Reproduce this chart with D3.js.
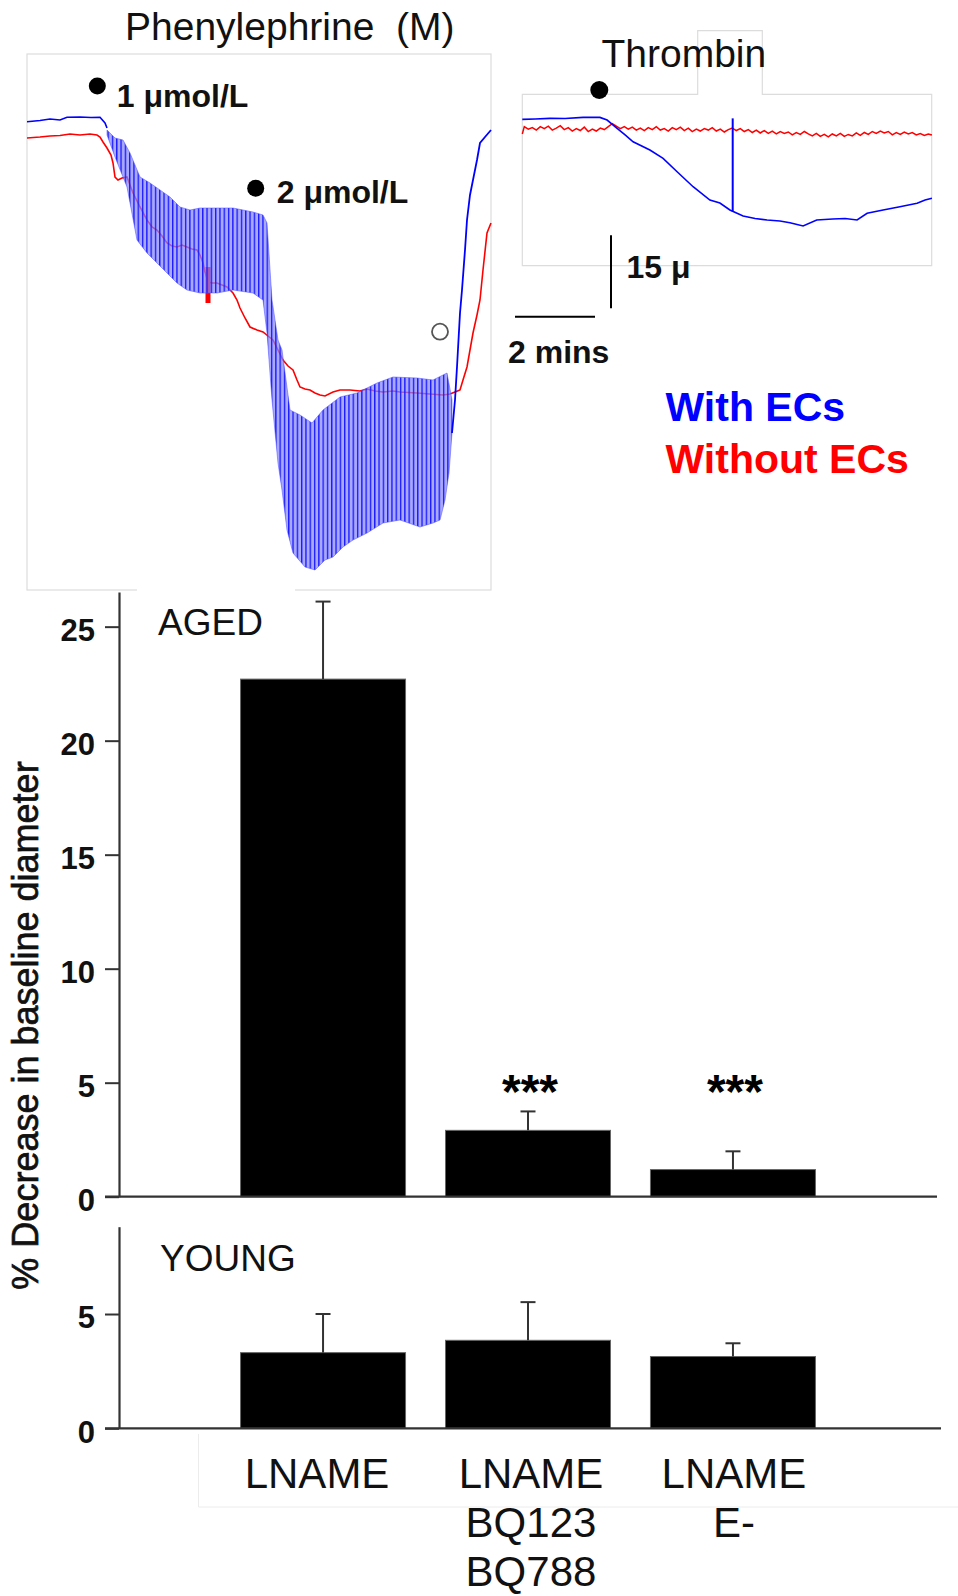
<!DOCTYPE html>
<html><head><meta charset="utf-8">
<script src="https://cdn.jsdelivr.net/npm/d3@7"></script>
<style>
body{margin:0;background:#fff}
text{font-family:"Liberation Sans",Arial,Helvetica,sans-serif}
</style>
</head><body>
<svg id="c" width="958" height="1596"></svg>
<script>
// ---------------- DATA ----------------
const categories = ["LNAME", "LNAME BQ123 BQ788", "LNAME E-"];
const categoryLines = [["LNAME"], ["LNAME", "BQ123", "BQ788"], ["LNAME", "E-"]];
const agedMean = [22.7, 2.91, 1.19];
const agedSEM = [3.4, 0.83, 0.8];
const agedSig = ["", "***", "***"];
const youngMean = [3.31, 3.85, 3.14];
const youngSEM = [1.69, 1.67, 0.58];
const agedTicks = [0, 5, 10, 15, 20, 25];
const youngTicks = [0, 5];
const yTitle = "% Decrease in baseline diameter";

// Phenylephrine traces: [time (min), diameter (µm)]
const pheBlueBase = [[0,93.66],[0.325,93.9],[0.575,94.2],[0.825,94.0],[1.0,94.54],[1.325,94.6],[1.6,94.5],[1.825,94.54],[1.95,93.4],[2.0,92.4]];
const pheBandUpper = [[2.0,92.0],[2.2,90.4],[2.4,90.0],[2.575,87.4],[2.825,82.6],[3.075,81.4],[3.325,80.0],[3.575,78.6],[3.825,76.6],[4.075,76.0],[4.325,76.4],[4.75,76.4],[5.15,76.4],[5.65,75.6],[5.9,75.0],[6.0,73.4],[6.125,58.0],[6.275,50.0],[6.375,48.0],[6.575,36.0],[6.825,35.0],[7.125,33.4],[7.4,36.0],[7.825,38.6],[8.25,39.4],[8.75,41.4],[9.15,42.6],[9.75,42.4],[10.15,42.0],[10.5,43.4],[10.625,38.0]];
const pheBandLower = [[2.0,91.0],[2.2,86.6],[2.5,80.6],[2.75,70.0],[3.0,67.4],[3.25,65.4],[3.5,63.4],[3.75,61.4],[4.0,60.0],[4.325,59.4],[4.75,59.4],[5.15,60.0],[5.65,59.4],[5.9,58.0],[6.0,51.4],[6.125,38.0],[6.275,25.4],[6.375,20.0],[6.5,12.0],[6.65,7.4],[6.95,4.6],[7.2,4.0],[7.45,6.0],[7.65,6.6],[7.9,8.6],[8.15,10.0],[8.5,11.4],[8.9,13.4],[9.325,14.0],[9.825,12.6],[10.15,13.4],[10.325,14.0],[10.45,18.0],[10.55,23.4],[10.625,31.4]];
const pheBlueRecovery = [[10.625,31.4],[10.7,38.0],[10.75,44.6],[10.825,55.4],[10.875,60.0],[10.95,68.0],[11.0,74.0],[11.075,79.0],[11.15,82.0],[11.25,86.0],[11.325,89.4],[11.45,90.6],[11.6,92.0]];
const pheRed = [[0,90.4],[0.325,90.6],[0.575,90.8],[0.825,90.9],[1.075,91.2],[1.325,91.0],[1.575,91.2],[1.75,91.0],[1.825,90.6],[1.9,89.6],[2.0,88.4],[2.1,87.0],[2.15,85.4],[2.2,82.6],[2.275,82.0],[2.375,82.4],[2.5,82.6],[2.575,81.0],[2.65,79.4],[2.825,76.6],[3.0,74.0],[3.125,72.6],[3.25,72.0],[3.375,70.8],[3.5,69.4],[3.625,68.8],[3.75,68.6],[3.875,69.0],[4.0,68.6],[4.125,68.2],[4.25,68.0],[4.325,67.0],[4.4,65.4],[4.45,63.6],[4.525,61.6],[4.625,61.4],[4.75,61.4],[4.875,61.0],[5.0,60.6],[5.15,59.4],[5.25,58.0],[5.325,56.4],[5.45,54.4],[5.575,52.6],[5.75,52.0],[5.9,51.6],[6.025,50.8],[6.15,50.0],[6.275,48.0],[6.4,46.0],[6.525,44.8],[6.65,44.0],[6.75,42.0],[6.825,40.6],[6.95,40.2],[7.075,40.0],[7.2,39.4],[7.325,39.0],[7.45,38.8],[7.65,39.6],[7.825,40.0],[8.075,40.0],[8.325,39.8],[8.5,40.2],[8.7,39.8],[8.9,39.6],[9.15,39.8],[9.325,39.6],[9.75,39.4],[10.075,39.2],[10.4,39.0],[10.575,39.2],[10.7,39.6],[10.825,40.0],[10.9,42.0],[11.0,44.6],[11.075,48.0],[11.15,51.4],[11.25,55.0],[11.325,58.0],[11.4,64.0],[11.5,71.4],[11.6,73.4]];
const pheRedArtifact = [[4.525,57.4],[4.525,64.6]];
const pheDoses = [{t:1.758, y:100.8, label:"1 \u03bcmol/L"}, {t:5.7175, y:80.34, label:"2 \u03bcmol/L"}];
const pheWashout = [{t:10.325, y:51.66}];

// Thrombin traces: [time (min), diameter (µm)]
const thrBlue = [[0,30.1],[0.32,30.17],[0.69,30.3],[1.07,30.27],[1.52,30.5],[1.94,30.5],[2.12,29.96],[2.37,28.26],[2.57,26.9],[2.77,25.5],[3.19,23.8],[3.52,22.1],[3.87,19.35],[4.27,16.27],[4.69,13.54],[4.94,12.93],[5.19,11.49],[5.52,10.26],[5.82,9.75],[6.12,9.44],[6.44,9.23],[6.69,8.89],[7.02,8.21],[7.36,9.44],[7.76,9.65],[8.07,9.75],[8.37,9.44],[8.62,10.81],[9.02,11.49],[9.44,12.17],[9.87,12.87],[10.07,13.54],[10.24,13.89]];
const thrBlueSpike = [[5.26,30.3],[5.26,11.14]];
const thrRed = [[0,27.1],[0.05,28.6],[0.15,28.1],[0.25,28.4],[0.35,27.9],[0.45,28.6],[0.55,28.2],[0.65,28.7],[0.75,27.9],[0.85,28.3],[0.95,28.8],[1.05,28.0],[1.15,28.4],[1.25,27.7],[1.35,28.2],[1.45,27.8],[1.55,28.5],[1.65,27.6],[1.75,28.1],[1.85,27.7],[1.95,28.3],[2.05,28.0],[2.15,28.6],[2.25,29.2],[2.35,28.7],[2.45,28.2],[2.55,28.6],[2.65,28.1],[2.75,28.5],[2.85,27.9],[2.95,28.3],[3.05,27.8],[3.15,28.4],[3.25,28.0],[3.35,28.6],[3.45,27.9],[3.55,28.2],[3.65,27.7],[3.75,28.4],[3.85,28.0],[3.95,28.5],[4.05,27.8],[4.15,28.3],[4.25,27.6],[4.35,28.1],[4.45,27.7],[4.55,28.2],[4.65,27.9],[4.75,28.4],[4.85,27.7],[4.95,28.1],[5.05,27.5],[5.15,28.0],[5.25,28.3],[5.35,27.8],[5.45,28.2],[5.55,27.6],[5.65,28.0],[5.75,27.4],[5.85,27.9],[5.95,27.3],[6.05,27.8],[6.15,27.2],[6.25,27.7],[6.35,27.1],[6.45,27.6],[6.55,27.2],[6.65,27.5],[6.75,26.9],[6.85,27.4],[6.95,27.0],[7.05,27.6],[7.15,27.1],[7.25,26.7],[7.35,27.2],[7.45,26.6],[7.55,27.0],[7.65,26.5],[7.75,27.1],[7.85,26.7],[7.95,27.2],[8.05,26.6],[8.15,27.0],[8.25,26.7],[8.35,27.3],[8.45,26.8],[8.55,27.4],[8.65,27.0],[8.75,27.6],[8.85,27.2],[8.95,27.7],[9.05,27.3],[9.15,27.6],[9.25,26.9],[9.35,27.4],[9.45,27.0],[9.55,27.5],[9.65,27.1],[9.75,27.4],[9.85,26.9],[9.95,27.2],[10.05,26.8],[10.15,27.1],[10.24,26.9]];
const thrDose = [{t:1.925, y:36.12}];
const scaleBarMicrons = 15;
const scaleBarMinutes = 2;
const legendLabels = ["With ECs", "Without ECs"];

// ---------------- DRAW ----------------
const svg = d3.select("#c");
svg.append("rect").attr("width",958).attr("height",1596).attr("fill","#fff");
const BLUE = "#0000ff", RED = "#ff0000";

// --- Phenylephrine panel ---
const xP = d3.scaleLinear().domain([0, 11.6]).range([27, 491]);
const yP = d3.scaleLinear().domain([0, 107.2]).range([590, 54]);
const lineP = d3.line().x(d => xP(d[0])).y(d => yP(d[1]));

svg.append("rect").attr("x",27).attr("y",54).attr("width",464).attr("height",536)
  .attr("fill","none").attr("stroke","#dcdcdc").attr("stroke-width",1.2);

svg.append("text").attr("x",125).attr("y",40).attr("font-size",39).attr("fill","#111")
  .style("white-space","pre").text("Phenylephrine  (M)");

const defs = svg.append("defs");
const pat = defs.append("pattern").attr("id","osc").attr("patternUnits","userSpaceOnUse")
  .attr("width",4.3).attr("height",600);
pat.append("rect").attr("width",4.3).attr("height",600).attr("fill","#8585ff").attr("fill-opacity",0.7);
pat.append("rect").attr("x",0).attr("width",1.35).attr("height",600).attr("fill","#1818ff");

svg.append("path").attr("d", lineP(pheRed)).attr("fill","none").attr("stroke",RED).attr("stroke-width",1.6);
svg.append("path").attr("d", lineP(pheRedArtifact)).attr("fill","none").attr("stroke",RED).attr("stroke-width",5);

const bandPts = pheBandUpper.concat(pheBandLower.slice().reverse());
svg.append("path").attr("d", lineP(bandPts) + "Z").attr("fill","url(#osc)")
  .attr("stroke","#4848ff").attr("stroke-width",0.5);

svg.append("path").attr("d", lineP(pheBlueBase)).attr("fill","none").attr("stroke",BLUE).attr("stroke-width",1.6);
svg.append("path").attr("d", lineP(pheBlueRecovery)).attr("fill","none").attr("stroke",BLUE).attr("stroke-width",1.8);

const doseOffsets = [[19.5, 20.5], [21, 15]];
pheDoses.forEach((d, i) => {
  svg.append("circle").attr("cx", xP(d.t)).attr("cy", yP(d.y)).attr("r", 8.5).attr("fill","#000");
  svg.append("text").attr("x", xP(d.t) + doseOffsets[i][0]).attr("y", yP(d.y) + doseOffsets[i][1])
    .attr("font-size",32).attr("font-weight","bold").attr("fill","#111").text(d.label);
});
pheWashout.forEach(d => {
  svg.append("circle").attr("cx", xP(d.t)).attr("cy", yP(d.y)).attr("r", 8)
    .attr("fill","none").attr("stroke","#555").attr("stroke-width",1.8);
});

// --- Thrombin panel ---
const xT = d3.scaleLinear().domain([0, 10.235]).range([522.3, 931.7]);
const yT = d3.scaleLinear().domain([0, 35.3]).range([266, 94]);
const lineT = d3.line().x(d => xT(d[0])).y(d => yT(d[1]));

svg.append("path").attr("d","M522.3,94.3H697.7V30.7H762.3V94.3H931.7V265.7H522.3Z")
  .attr("fill","none").attr("stroke","#dcdcdc").attr("stroke-width",1.2);
svg.append("text").attr("x",601.5).attr("y",66.5).attr("font-size",39).attr("fill","#111").text("Thrombin");

svg.append("path").attr("d", lineT(thrRed)).attr("fill","none").attr("stroke",RED).attr("stroke-width",1.5);
svg.append("path").attr("d", lineT(thrBlue)).attr("fill","none").attr("stroke",BLUE).attr("stroke-width",1.6);
svg.append("path").attr("d", lineT(thrBlueSpike)).attr("fill","none").attr("stroke",BLUE).attr("stroke-width",2);
thrDose.forEach(d => {
  svg.append("circle").attr("cx", xT(d.t)).attr("cy", yT(d.y)).attr("r", 9).attr("fill","#000");
});

// scale bars
const sbT = 2.2175, sbY = -8.68;
svg.append("line").attr("x1", xT(sbT)).attr("x2", xT(sbT)).attr("y1", yT(sbY)).attr("y2", yT(sbY + scaleBarMicrons))
  .attr("stroke","#000").attr("stroke-width",2);
svg.append("line").attr("x1", xT(-0.1825)).attr("x2", xT(-0.1825 + scaleBarMinutes)).attr("y1", yT(-10.4)).attr("y2", yT(-10.4))
  .attr("stroke","#000").attr("stroke-width",2);
svg.append("text").attr("x",626.5).attr("y",278).attr("font-size",32).attr("font-weight","bold").attr("fill","#111").text("15 \u03bc");
svg.append("text").attr("x",508).attr("y",363).attr("font-size",32).attr("font-weight","bold").attr("fill","#111").text("2 mins");

svg.append("text").attr("x",665.5).attr("y",420.5).attr("font-size",41).attr("font-weight","bold").attr("fill",BLUE).text(legendLabels[0]);
svg.append("text").attr("x",665.5).attr("y",473).attr("font-size",41).attr("font-weight","bold").attr("fill",RED).text(legendLabels[1]);

// --- Bar charts ---
svg.append("rect").attr("x",137).attr("y",586).attr("width",158).attr("height",10).attr("fill","#fff");

const xB = d3.scaleBand().domain(categories).range([119, 937]).paddingInner(0.195).paddingOuter(0.593);
const yA = d3.scaleLinear().domain([0, 26.52]).range([1196.7, 592]);
const yY = d3.scaleLinear().domain([0, 8.82]).range([1428.3, 1226.7]);

function panel(yScale, means, sems, ticks, label, labelPos, xEnd, sig) {
  const g = svg.append("g");
  g.selectAll("rect.bar").data(categories).enter().append("rect")
    .attr("x", d => xB(d)).attr("width", xB.bandwidth())
    .attr("y", (d, i) => yScale(means[i])).attr("height", (d, i) => yScale(0) - yScale(means[i]))
    .attr("fill","#000").attr("stroke","#666").attr("stroke-width",1);
  categories.forEach((c, i) => {
    const cx = xB(c) + xB.bandwidth() / 2;
    g.append("line").attr("x1",cx).attr("x2",cx).attr("y1",yScale(means[i])).attr("y2",yScale(means[i] + sems[i]))
      .attr("stroke","#333").attr("stroke-width",2);
    g.append("line").attr("x1",cx - 7.5).attr("x2",cx + 7.5).attr("y1",yScale(means[i] + sems[i])).attr("y2",yScale(means[i] + sems[i]))
      .attr("stroke","#333").attr("stroke-width",2);
    if (sig && sig[i]) {
      g.append("text").attr("x", cx + 2).attr("y", 1108).attr("text-anchor","middle")
        .attr("font-size",48).attr("font-weight","bold").attr("fill","#000").text(sig[i]);
    }
  });
  const ax = g.append("g").attr("transform","translate(119,0)")
    .call(d3.axisLeft(yScale).tickValues(ticks).tickSize(14).tickSizeOuter(0).tickPadding(10).tickFormat(d3.format("d")));
  ax.select(".domain").attr("stroke","#333").attr("stroke-width",2.2);
  ax.selectAll(".tick line").attr("stroke","#333").attr("stroke-width",2);
  ax.selectAll(".tick text").attr("font-size",31).attr("font-weight","bold").attr("fill","#111")
    .attr("font-family","Liberation Sans, Arial, sans-serif").attr("dy","0.45em");
  g.append("line").attr("x1",105).attr("x2",xEnd).attr("y1",yScale(0)).attr("y2",yScale(0))
    .attr("stroke","#333").attr("stroke-width",2.2);
  g.append("text").attr("x",labelPos[0]).attr("y",labelPos[1]).attr("font-size",37).attr("fill","#111").text(label);
}
panel(yA, agedMean, agedSEM, agedTicks, "AGED", [158, 635], 937, agedSig);
panel(yY, youngMean, youngSEM, youngTicks, "YOUNG", [160, 1270.5], 941, null);

svg.append("path").attr("d","M198.5,1434V1507H958").attr("fill","none").attr("stroke","#ececec").attr("stroke-width",1);

// category labels
const labelShift = [-6, 3, 1];
categories.forEach((c, i) => {
  const cx = xB(c) + xB.bandwidth() / 2;
  categoryLines[i].forEach((ln, j) => {
    svg.append("text").attr("x", cx + labelShift[i]).attr("y", 1488.4 + j * 49).attr("text-anchor","middle")
      .attr("font-size",42).attr("fill","#111").text(ln);
  });
});

// y title
svg.append("text").attr("transform","translate(38,1025.5) rotate(-90)").attr("text-anchor","middle")
  .attr("font-size",36).attr("fill","#111").attr("stroke","#111").attr("stroke-width",0.7).text(yTitle);
</script>
</body></html>
